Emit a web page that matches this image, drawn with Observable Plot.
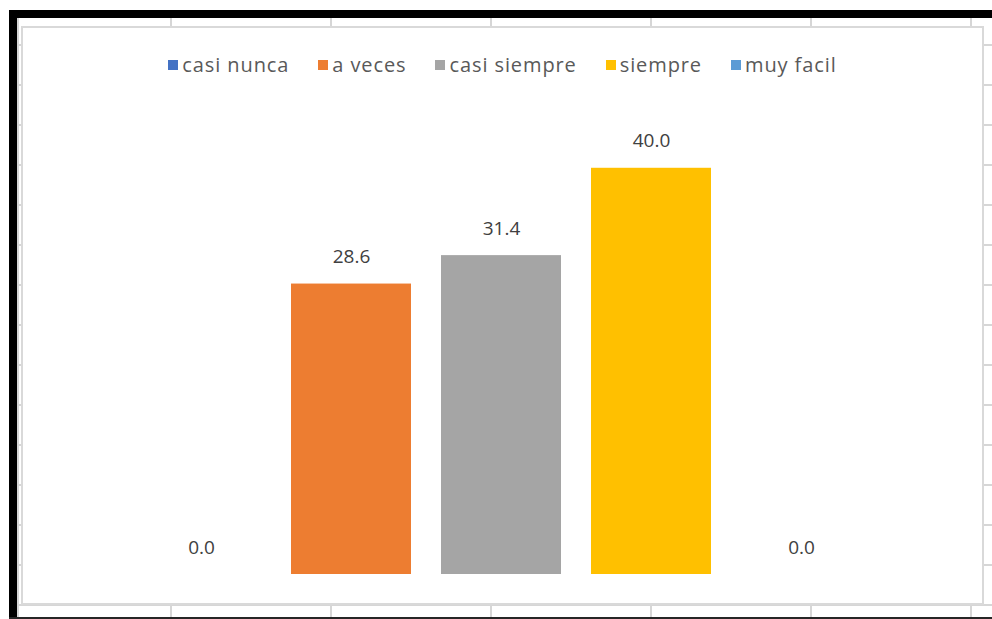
<!DOCTYPE html>
<html><head><meta charset="utf-8">
<script src="https://cdn.jsdelivr.net/npm/d3@7"></script>
<script src="https://cdn.jsdelivr.net/npm/@observablehq/plot@0.6"></script>
<style>
html,body{margin:0;padding:0;background:#fff;}
#page{position:relative;width:992px;height:619px;overflow:hidden;background-color:#fff;
  background-image:linear-gradient(to right,#d6d6d6 2px,transparent 2px),linear-gradient(to bottom,#d6d6d6 2px,transparent 2px);
  background-size:160px 40px;background-position:170px 44px;}
.blk{position:absolute;}
#chartbox{position:absolute;left:21px;top:26px;width:963px;height:579px;box-sizing:border-box;border:2px solid #d9d9d9;background:#fff;}
#legend{position:absolute;left:21px;top:50px;width:963px;display:flex;justify-content:center;gap:29px;
  font-family:"Open Sans",sans-serif;font-size:20px;color:#595959;letter-spacing:0.9px;line-height:30px;}
.item{display:flex;align-items:center;}
.sw{width:10px;height:10px;margin-right:4px;}
#plot{position:absolute;left:0;top:90px;}
</style></head>
<body>
<div id="page">
  <div class="blk" style="left:0;top:0;width:992px;height:10px;background:#fff"></div>
  <div class="blk" style="left:0;top:0;width:9px;height:619px;background:#fff"></div>
  <div class="blk" style="left:17px;top:18px;width:2px;height:601px;background:#d6d6d6"></div>
  <div id="chartbox"></div>
  <div class="blk" style="left:9px;top:10px;width:983px;height:8px;background:#000"></div>
  <div class="blk" style="left:9px;top:10px;width:8px;height:609px;background:#000"></div>
  <div class="blk" style="left:9px;top:617px;width:983px;height:2px;background:#262626"></div>
  <div id="legend"></div>
  <div id="plot"></div>
</div>
<script>
const categories = ["casi nunca", "a veces", "casi siempre", "siempre", "muy facil"];
const values = [0.0, 28.6, 31.4, 40.0, 0.0];
const colors = ["#4472C4", "#ED7D31", "#A5A5A5", "#FFC000", "#5B9BD5"];

const data = categories.map((c, i) => ({cat: c, value: values[i]}));

const legend = document.getElementById("legend");
categories.forEach((c, i) => {
  const it = document.createElement("div");
  it.className = "item";
  const sw = document.createElement("span");
  sw.className = "sw";
  sw.style.background = colors[i];
  const t = document.createElement("span");
  t.textContent = c;
  it.appendChild(sw); it.appendChild(t);
  legend.appendChild(it);
});

const chart = Plot.plot({
  width: 992,
  height: 529,
  marginLeft: 111,
  marginRight: 101,
  marginTop: 27,
  marginBottom: 45,
  x: {domain: categories, padding: 0.2, axis: null},
  y: {domain: [0, 45], axis: null},
  color: {domain: categories, range: colors},
  style: {background: "transparent", overflow: "visible"},
  marks: [
    Plot.barY(data, {x: "cat", y: "value", fill: "cat"}),
    Plot.text(data, {x: "cat", y: "value", text: d => d.value.toFixed(1), dy: -27,
      fill: "#404040", fontSize: 19, fontFamily: "Open Sans", letterSpacing: "0.5px"})
  ]
});
document.getElementById("plot").appendChild(chart);
</script>
</body></html>
